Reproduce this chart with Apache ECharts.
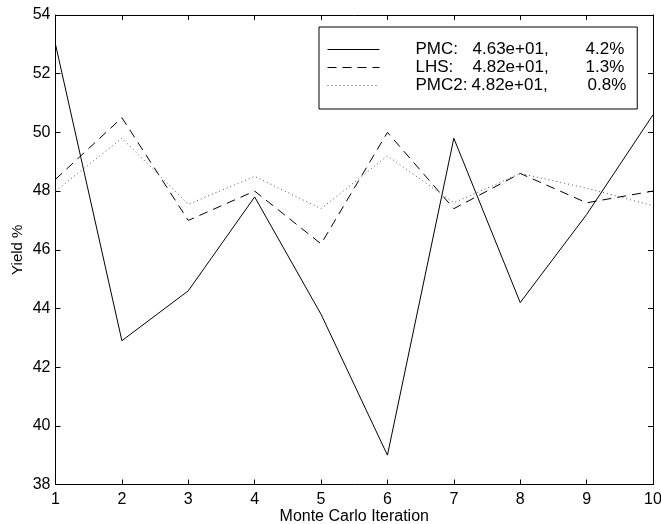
<!DOCTYPE html>
<html>
<head>
<meta charset="utf-8">
<script src="https://cdn.jsdelivr.net/npm/echarts@6/dist/echarts.min.js"></script>
<style>
  html, body { margin: 0; padding: 0; background: #fff; }
  #chart { width: 661px; height: 524px; }
</style>
</head>
<body>
<div id="chart"></div>
<script>
// Yield estimates per Monte Carlo iteration for three sampling schemes
const iterations = [1, 2, 3, 4, 5, 6, 7, 8, 9, 10];
const pmcYield  = [53.0, 42.9, 44.6, 47.8, 43.8, 39.0, 49.8, 44.2, 47.2, 50.6];
const lhsYield  = [48.4, 50.5, 47.0, 48.0, 46.2, 50.0, 47.4, 48.6, 47.6, 48.0];
const pmc2Yield = [48.0, 49.8, 47.55, 48.5, 47.4, 49.2, 47.6, 48.6, 48.1, 47.5];

// Legend entries: method, mean yield, spread
const methodNames = ['PMC', 'LHS', 'PMC2'];
const meanLabels = ['4.63e+01,', '4.82e+01,', '4.82e+01,'];
const spreadLabels = ['4.2%', '1.3%', '0.8%'];

const xTicks = iterations;
const yTicks = [38, 40, 42, 44, 46, 48, 50, 52, 54];

const FONT = '"Liberation Sans", Arial, Helvetica, sans-serif';

const chart = echarts.init(document.getElementById('chart'), null, { renderer: 'canvas' });

function pairs(values) {
  return iterations.map((x, i) => [x, values[i]]);
}

const baseAxisLine = { show: true, lineStyle: { color: '#000', width: 1 } };
const baseTick = { show: true, inside: true, length: 5, lineStyle: { color: '#000', width: 1 } };

const option = {
  backgroundColor: '#fff',
  animation: false,
  grid: {
    left: 55.5, right: 8, top: 15, bottom: 39.5,
    containLabel: false, outerBoundsMode: 'none'
  },
  xAxis: [
    {
      type: 'value', min: xTicks[0], max: xTicks[xTicks.length - 1], interval: 1,
      position: 'bottom',
      name: 'Monte Carlo Iteration', nameLocation: 'middle', nameGap: 24,
      nameMoveOverlap: false,
      nameTextStyle: { fontFamily: FONT, fontSize: 16, color: '#000' },
      axisLine: baseAxisLine, axisTick: baseTick,
      axisLabel: { fontFamily: FONT, fontSize: 16, color: '#000', margin: 7 },
      splitLine: { show: false }
    },
    {
      type: 'value', min: xTicks[0], max: xTicks[xTicks.length - 1], interval: 1,
      position: 'top',
      axisLine: baseAxisLine, axisTick: baseTick,
      axisLabel: { show: false }, splitLine: { show: false }
    }
  ],
  yAxis: [
    {
      type: 'value', min: yTicks[0], max: yTicks[yTicks.length - 1], interval: 2,
      position: 'left',
      name: 'Yield %', nameLocation: 'middle', nameGap: 30,
      nameMoveOverlap: false,
      nameTextStyle: { fontFamily: FONT, fontSize: 15, color: '#000' },
      axisLine: baseAxisLine, axisTick: baseTick,
      axisLabel: { fontFamily: FONT, fontSize: 16, color: '#000', margin: 5 },
      splitLine: { show: false }
    },
    {
      type: 'value', min: yTicks[0], max: yTicks[yTicks.length - 1], interval: 2,
      position: 'right',
      axisLine: baseAxisLine, axisTick: baseTick,
      axisLabel: { show: false }, splitLine: { show: false }
    }
  ],
  legend: {
    show: true,
    orient: 'vertical',
    left: 319, top: 27,
    padding: [14, 11, 15, 8],
    itemGap: 1,
    itemWidth: 52,
    itemHeight: 16,
    backgroundColor: '#fff',
    borderColor: '#000',
    borderWidth: 1,
    borderRadius: 0,
    itemStyle: { opacity: 0, borderWidth: 0 },
    lineStyle: { width: 1 },
    data: methodNames,
    formatter: function (name) {
      const i = methodNames.indexOf(name);
      const head = i === 2 ? 'n2' : 'n';
      const mid = i === 2 ? 'v2' : 'v';
      return '{' + head + '|' + name + ':}{' + mid + '|' + meanLabels[i] + '}{p|' + spreadLabels[i] + '}';
    },
    textStyle: {
      fontFamily: FONT, fontSize: 17, color: '#000',
      padding: [0, 0, 0, 31],
      rich: {
        n:  { fontFamily: FONT, fontSize: 17, color: '#000', width: 57 },
        n2: { fontFamily: FONT, fontSize: 17, color: '#000', width: 56 },
        v:  { fontFamily: FONT, fontSize: 17, color: '#000', width: 113 },
        v2: { fontFamily: FONT, fontSize: 17, color: '#000', width: 116 },
        p:  { fontFamily: FONT, fontSize: 17, color: '#000' }
      }
    }
  },
  series: [
    {
      name: methodNames[0], type: 'line', data: pairs(pmcYield),
      symbol: 'none', xAxisIndex: 0, yAxisIndex: 0,
      lineStyle: { color: '#000', width: 1, type: 'solid' },
      itemStyle: { color: '#000' }
    },
    {
      name: methodNames[1], type: 'line', data: pairs(lhsYield),
      symbol: 'none', xAxisIndex: 0, yAxisIndex: 0,
      lineStyle: { color: '#000', width: 1, type: [9, 6] },
      itemStyle: { color: '#000' }
    },
    {
      name: methodNames[2], type: 'line', data: pairs(pmc2Yield),
      symbol: 'none', xAxisIndex: 0, yAxisIndex: 0,
      lineStyle: { color: '#555', width: 1, type: [1, 3] },
      itemStyle: { color: '#555' }
    }
  ]
};

chart.setOption(option);
</script>
</body>
</html>
